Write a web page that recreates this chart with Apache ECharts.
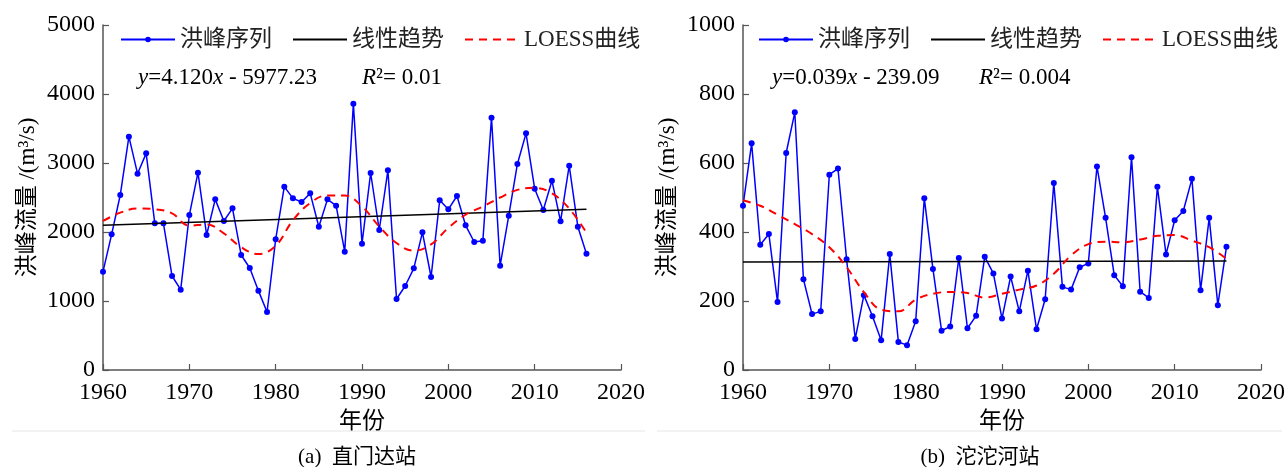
<!DOCTYPE html>
<html>
<head>
<meta charset="utf-8">
<script src="https://cdn.jsdelivr.net/npm/echarts@6/dist/echarts.min.js"></script>
<style>
html,body{margin:0;padding:0;background:#fff;}
#chart{width:1288px;height:467px;}
</style>
</head>
<body>
<div id="chart"></div>
<script>
// ---------- data ----------
var years = [1960,1961,1962,1963,1964,1965,1966,1967,1968,1969,
             1970,1971,1972,1973,1974,1975,1976,1977,1978,1979,
             1980,1981,1982,1983,1984,1985,1986,1987,1988,1989,
             1990,1991,1992,1993,1994,1995,1996,1997,1998,1999,
             2000,2001,2002,2003,2004,2005,2006,2007,2008,2009,
             2010,2011,2012,2013,2014,2015,2016];
// 直门达站 flood peaks
var zmdFlood = [1425,1966,2536,3382,2845,3140,2126,2126,1362,1164,
                2246,2860,1957,2473,2159,2343,1667,1478,1150,841,
                1894,2657,2488,2435,2560,2077,2473,2382,1715,3860,
                1831,2855,2029,2894,1029,1217,1473,1995,1348,2459,
                2329,2522,2097,1855,1874,3657,1512,2237,2986,3430,
                2628,2319,2744,2155,2961,2077,1686];
// 沱沱河站 flood peaks
var ttFlood = [476,657,363,394,197,629,747,263,162,170,
               566,584,321,90,217,156,86,336,81,72,
               141,498,293,114,126,325,121,157,328,280,
               149,271,170,288,118,205,542,241,233,298,
               309,590,441,275,243,617,227,209,531,335,
               434,461,554,231,441,188,357];
// linear trend end points
var trendYears = [1960, 2016];
var zmdTrend = [2098, 2329];
var ttTrend = [313, 316];
// LOESS curves (read every 2 years)
var loessYears = [1960,1962,1964,1966,1968,1970,1972,1974,1976,1978,
                  1980,1982,1984,1986,1988,1990,1992,1994,1996,1998,
                  2000,2002,2004,2006,2008,2010,2012,2014,2016];
var zmdLoess = [2160,2280,2340,2330,2270,2090,2110,1980,1780,1680,
                1800,2170,2420,2530,2530,2370,2080,1840,1730,1820,
                2060,2250,2370,2500,2610,2640,2560,2340,1990];
var ttLoess = [492,476,450,423,394,356,298,226,175,170,
               204,221,226,223,210,221,233,245,279,332,
               365,372,370,378,389,391,375,356,322];
// text
var seriesNames = ['洪峰序列','线性趋势','LOESS曲线'];
var yName = '洪峰流量 /(m³/s)';
var xName = '年份';
var captions = ['(a)  直门达站','(b)  沱沱河站'];

// ---------- chart ----------
function pairs(xs, ys){ return xs.map(function(x,i){return [x, ys[i]];}); }
var serif = '"Liberation Serif", "Noto Sans CJK SC", serif';
var axisColor = '#555';
function plain(v){ return String(v); }

function xAxisCfg(gi){
  return {
    type:'value', gridIndex:gi, min:1960, max:2020, interval:10,
    name:xName, nameLocation:'middle', nameGap:40,
    nameTextStyle:{fontFamily:serif, fontSize:23, color:'#000'},
    axisLine:{show:true, onZero:false, lineStyle:{color:axisColor, width:1.5}},
    axisTick:{show:true, inside:true, length:6, lineStyle:{color:axisColor, width:1.2}},
    axisLabel:{fontFamily:serif, fontSize:24, color:'#000', margin:11, formatter:plain},
    splitLine:{show:false}
  };
}
function yAxisCfg(gi, max, interval){
  return {
    type:'value', gridIndex:gi, min:0, max:max, interval:interval,
    name:yName, nameLocation:'middle', nameGap:64, nameRotate:90,
    nameTextStyle:{fontFamily:serif, fontSize:23, color:'#000'},
    axisLine:{show:true, lineStyle:{color:axisColor, width:1.5}},
    axisTick:{show:true, inside:true, length:6, lineStyle:{color:axisColor, width:1.2}},
    axisLabel:{fontFamily:serif, fontSize:24, color:'#000', margin:8, formatter:plain},
    splitLine:{show:false}
  };
}
function panelSeries(gi, flood, trend, loess){
  return [
    {name:seriesNames[0], type:'line', xAxisIndex:gi, yAxisIndex:gi,
     data:pairs(years, flood), symbol:'circle', symbolSize:6,
     lineStyle:{color:'#0000ff', width:1.5}, itemStyle:{color:'#0000ff'}, z:3},
    {name:seriesNames[1], type:'line', xAxisIndex:gi, yAxisIndex:gi,
     data:pairs(trendYears, trend), symbol:'none',
     lineStyle:{color:'#000', width:1.5}, itemStyle:{color:'#000'}, z:4},
    {name:seriesNames[2], type:'line', xAxisIndex:gi, yAxisIndex:gi,
     data:pairs(loessYears, loess), symbol:'none', smooth:0.4,
     lineStyle:{color:'#ff0000', width:2, type:[8,6]}, itemStyle:{color:'#ff0000'}, z:5}
  ];
}
function legendCfg(left){
  return {
    left:left, top:23, itemWidth:54, itemHeight:7, itemGap:20,
    selectedMode:false,
    data:[
      {name:seriesNames[0]},
      {name:seriesNames[1], itemStyle:{opacity:0}},
      {name:seriesNames[2], itemStyle:{opacity:0}}
    ],
    textStyle:{fontFamily:serif, fontSize:23, color:'#222'}
  };
}
function eqText(x, y, txt){
  return {type:'text', x:x, y:y, silent:true,
    style:{text:txt, fontFamily:serif, fontSize:23, fill:'#000',
      textAlign:'left', textVerticalAlign:'middle', verticalAlign:'middle',
      rich:{i:{fontStyle:'italic', fontFamily:serif, fontSize:23, fill:'#000'}}}};
}

var chart = echarts.init(document.getElementById('chart'), null, {renderer:'canvas'});
chart.setOption({
  backgroundColor:'#fff',
  animation:false,
  grid:[
    {left:103, top:25, width:518, height:345},
    {left:743, top:25, width:518, height:345}
  ],
  xAxis:[xAxisCfg(0), xAxisCfg(1)],
  yAxis:[yAxisCfg(0,5000,1000), yAxisCfg(1,1000,200)],
  legend:[legendCfg(115), legendCfg(753)],
  series:[].concat(panelSeries(0, zmdFlood, zmdTrend, zmdLoess),
                   panelSeries(1, ttFlood, ttTrend, ttLoess)),
  graphic:[
    eqText(138, 78, '{i|y}=4.120{i|x} - 5977.23'),
    eqText(362, 78, '{i|R}²= 0.01'),
    eqText(772, 78, '{i|y}=0.039{i|x} - 239.09'),
    eqText(979, 78, '{i|R}²= 0.004'),
    {type:'line', shape:{x1:12, y1:431, x2:645, y2:431}, style:{stroke:'#e6e6e6', lineWidth:1}, silent:true},
    {type:'line', shape:{x1:657, y1:431, x2:1282, y2:431}, style:{stroke:'#e6e6e6', lineWidth:1}, silent:true},
    {type:'text', x:357, y:457, silent:true,
     style:{text:captions[0], fontFamily:serif, fontSize:21, fill:'#000', textAlign:'center', textVerticalAlign:'middle', verticalAlign:'middle'}},
    {type:'text', x:980, y:457, silent:true,
     style:{text:captions[1], fontFamily:serif, fontSize:21, fill:'#000', textAlign:'center', textVerticalAlign:'middle', verticalAlign:'middle'}}
  ]
});
</script>
</body>
</html>
